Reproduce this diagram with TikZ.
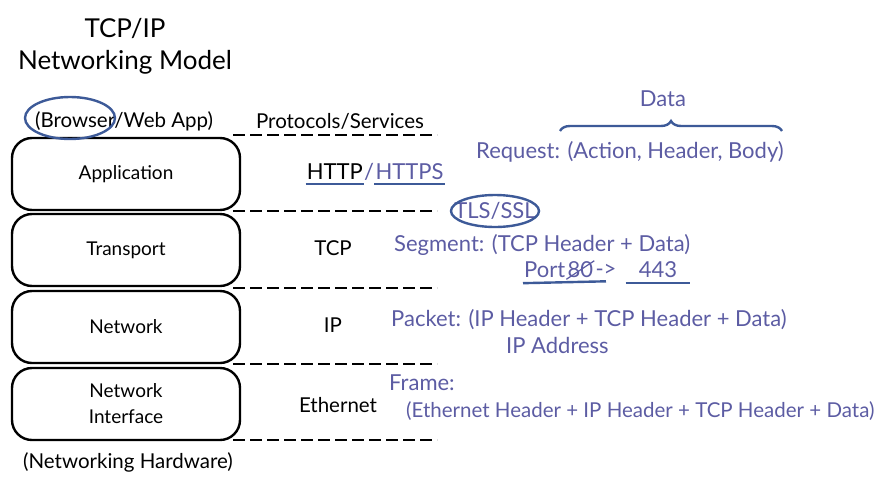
\documentclass[tikz,border=0pt]{standalone}
\usepackage{fontspec}
\setmainfont{Lato}
\usetikzlibrary{decorations.pathreplacing}
\definecolor{pen}{HTML}{5C5CA3}
\definecolor{ink}{HTML}{3D5A98}

\begin{document}
\begin{tikzpicture}[x=1pt,y=-1pt,
    layer/.style={draw,line width=2.4pt,rounded corners=20pt,minimum width=228pt,
      minimum height=72pt,align=center,font=\fontsize{19}{26}\selectfont},
    label/.style={font=\fontsize{20.5}{24}\selectfont,inner sep=1pt},
    note/.style={text=pen,font=\fontsize{22}{26}\selectfont,inner sep=1pt},
    sep/.style={line width=1.3pt,dash pattern=on 12pt off 5pt},
    ringline/.style={draw=ink,line width=2.4pt}]
    \useasboundingbox (0,0) rectangle (888,485);
    % title
    \node[font=\fontsize{26}{32}\selectfont,align=center] (title) at (125,46) {TCP/IP\\Networking Model};
    % left column: the four layers
    \node[label] (apps) at (124,121) {(Browser/Web App)};
    \node[layer] (app) at (126,174) {Application};
    \node[layer] (trans) at (126,250) {Transport};
    \node[layer] (net) at (126,327) {Network};
    \node[layer] (nif) at (126,404) {Network\\Interface};
    \node[label] (hw) at (128,462) {(Networking Hardware)};
    \draw[ringline] (70,118) ellipse[x radius=45pt,y radius=21pt];
    % dashed separators
    \foreach \y [count=\i] in {135,211,288,364,440}{
        \coordinate (l\i) at (233,\y);
        \coordinate (r\i) at (437,\y);
        \draw[sep] (l\i) -- (r\i);
    }
    % protocols / services
    \node[label] (proto) at (340,121) {Protocols/Services};
    \node[label,font=\fontsize{22}{26}\selectfont,anchor=east] (http) at (364,172) {HTTP};
    \node[note,anchor=west,inner xsep=0pt] (slash) at (http.east) {/};
    \node[note,anchor=west] (https) at (slash.east) {HTTPS};
    \draw[ringline] ([yshift=-3pt]http.south west) -- ([yshift=-3pt]http.south east);
    \draw[ringline] ([yshift=-3pt]https.south west) -- ([yshift=-3pt]https.south east);
    \node[label] (tcp) at (333,248) {TCP};
    \node[label] (ip) at (333,325) {IP};
    \node[label] (eth) at (338,405) {Ethernet};
    % TLS between application and transport
    \node[note] (tls) at (495,211) {TLS/SSL};
    \draw[ringline] (495,211) ellipse[x radius=44pt,y radius=16pt];
    % data units
    \node[note] (data) at (663,99) {Data};
    \node[note,anchor=west] (req) at (475,152) {Request: (Action, Header, Body)};
    \coordinate (bl) at (560,131);
    \coordinate (br) at (782,131);
    \draw[ringline,decorate,decoration={brace,amplitude=10pt}] (bl) -- (br);
    \node[note,anchor=west] (seg) at (393,245) {Segment: (TCP Header + Data)};
    \node[note,anchor=west] (port) at (523,270) {Port};
    \node[note,anchor=west] (old) at (port.east) {80};
    \node[note,anchor=west] (arr) at (old.east) {->};
    \node[note,anchor=west] (new) at ([xshift=20pt]arr.east) {443};
    \draw[pen,line width=1.2pt] (old.south west) -- (old.north east);
    \draw[ringline] ([yshift=-4pt]port.south west) -- ([yshift=-4pt]arr.south);
    \draw[ringline] ([yshift=-4pt,xshift=-12pt]new.south west) -- ([yshift=-4pt,xshift=12pt]new.south east);
    \node[note,anchor=west] (pkt) at (390,320) {Packet: (IP Header + TCP Header + Data)};
    \node[note,anchor=west] (addr) at (505,345) {IP Address};
    \node[note,anchor=west] (frame) at (388,383) {Frame:};
    \node[note,anchor=west,font=\fontsize{20.5}{24}\selectfont] (frm) at (405,411) {(Ethernet Header + IP Header + TCP Header + Data)};
\end{tikzpicture}
\end{document}
